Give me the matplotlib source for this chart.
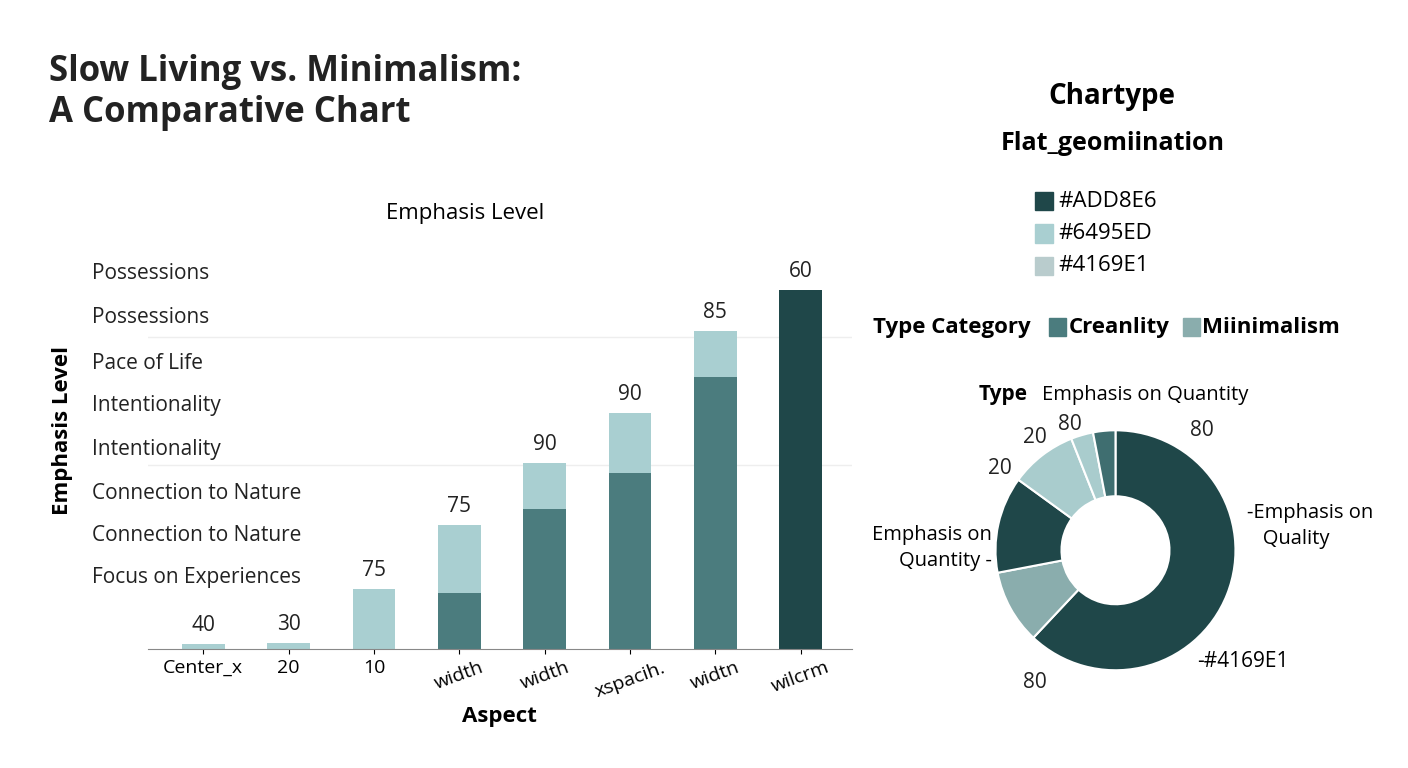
import matplotlib.pyplot as plt
import numpy as np

plt.rcParams['font.family'] = ['Open Sans', 'DejaVu Sans']

aspects = ['Center_x', '20', '10', 'width', 'width', 'xspacih.', 'widtn', 'wilcrm']
dark_vals = [0, 0, 0, 14, 35, 44, 68, 90]
light_vals = [1.2, 1.5, 15, 17, 11.5, 15, 11.7, 0]
top_labels = ['40', '30', '75', '75', '90', '90', '85', '60']
left_labels = ['Possessions', 'Possessions', 'Pace of Life', 'Intentionality', 'Intentionality',
               'Connection to Nature', 'Connection to Nature', 'Focus on Experiences']
left_levels = [94, 83, 71.5, 61, 50, 39, 28.5, 18]

donut_vals = [62, 10, 13, 9, 3, 3]
donut_colors = ['#1f4749', '#8aadad', '#1f4749', '#a9cccd', '#a9cccd', '#3f6e70']

dark = '#1f4749'
mid = '#4b7c7e'
light = '#a9cfd1'

fig = plt.figure(figsize=(14.08, 7.68), dpi=100)
fig.text(0.035, 0.93, 'Slow Living vs. Minimalism:\nA Comparative Chart', fontsize=25,
         fontweight='bold', color='#222222', va='top', linespacing=1.2)

ax = fig.add_axes([0.105, 0.155, 0.5, 0.52])
x = np.arange(len(aspects))
colors = [mid] * 7 + [dark]
ax.bar(x, dark_vals, width=0.5, color=colors)
ax.bar(x, light_vals, bottom=dark_vals, width=0.5, color=light)
for xi, d, l, t in zip(x, dark_vals, light_vals, top_labels):
    ax.text(xi, d + l + 2, t, ha='center', va='bottom', fontsize=15, color='#222222')
ax.set_xlim(-0.65, 7.6)
ax.set_ylim(0, 100)
ax.set_xticks(x)
ax.set_xticklabels(aspects, fontsize=14)
for i, lab in enumerate(ax.get_xticklabels()):
    if i >= 3:
        lab.set_rotation(20)
ax.set_yticks([])
for s in ['top', 'right', 'left']:
    ax.spines[s].set_visible(False)
ax.spines['bottom'].set_color('#888888')
for gy in [78, 46]:
    ax.axhline(gy, color='#eeeeee', lw=1, zorder=0)
for lab, lv in zip(left_labels, left_levels):
    ax.text(-0.08, lv, lab, transform=ax.get_yaxis_transform(), fontsize=15, color='#222222',
            va='center', ha='left')
ax.set_xlabel('Aspect', fontsize=16, fontweight='bold')
fig.text(0.037, 0.44, 'Emphasis Level', rotation=90, fontsize=16, fontweight='bold', va='center')
fig.text(0.33, 0.715, 'Emphasis Level', fontsize=16, ha='center')

# legend area on the right
fig.text(0.79, 0.865, 'Chartype', fontsize=20, fontweight='bold', ha='center')
fig.text(0.79, 0.805, 'Flat_geomiination', fontsize=18, fontweight='bold', ha='center')
for i, (c, t) in enumerate(zip([dark, light, '#b9cccd'], ['#ADD8E6', '#6495ED', '#4169E1'])):
    yy = 0.726 - i * 0.042
    fig.patches.append(plt.Rectangle((0.735, yy), 0.013, 0.024, color=c, transform=fig.transFigure))
    fig.text(0.752, yy + 0.012, t, fontsize=16, va='center')
fig.text(0.62, 0.573, 'Type Category', fontsize=16, fontweight='bold', va='center')
fig.patches.append(plt.Rectangle((0.745, 0.562), 0.012, 0.024, color=mid, transform=fig.transFigure))
fig.text(0.759, 0.573, 'Creanlity', fontsize=16, fontweight='bold', va='center')
fig.patches.append(plt.Rectangle((0.84, 0.562), 0.012, 0.024, color='#8aadad', transform=fig.transFigure))
fig.text(0.854, 0.573, 'Miinimalism', fontsize=16, fontweight='bold', va='center')
fig.text(0.695, 0.486, 'Type', fontsize=15, fontweight='bold', va='center')
fig.text(0.74, 0.486, 'Emphasis on Quantity', fontsize=14.5, va='center')

axd = fig.add_axes([0.69, 0.096, 0.2045, 0.375])
axd.pie(donut_vals, colors=donut_colors, startangle=90, counterclock=False,
        wedgeprops=dict(width=0.55, edgecolor='white', linewidth=1.5))
axd.set_aspect('equal')
axd.set_xlim(-1.2, 1.2)
axd.set_ylim(-1.2, 1.2)
axd.axis('off')
kw = dict(fontsize=15, color='#222222', ha='center', va='center')
axd.text(0.72, 1.0, '80', **kw)
axd.text(-0.38, 1.05, '80', **kw)
axd.text(-0.67, 0.94, '20', **kw)
axd.text(-0.96, 0.68, '20', **kw)
axd.text(1.1, 0.2, '-Emphasis on\n   Quality', ha='left', va='center', fontsize=14.5, linespacing=1.4)
axd.text(-1.03, 0.02, 'Emphasis on\nQuantity -', ha='right', va='center', fontsize=14.5,
         linespacing=1.4, multialignment='right')
axd.text(0.68, -0.93, '-#4169E1', ha='left', va='center', fontsize=15)
axd.text(-0.67, -1.1, '80', **kw)

fig.savefig('out.png', dpi=100)
